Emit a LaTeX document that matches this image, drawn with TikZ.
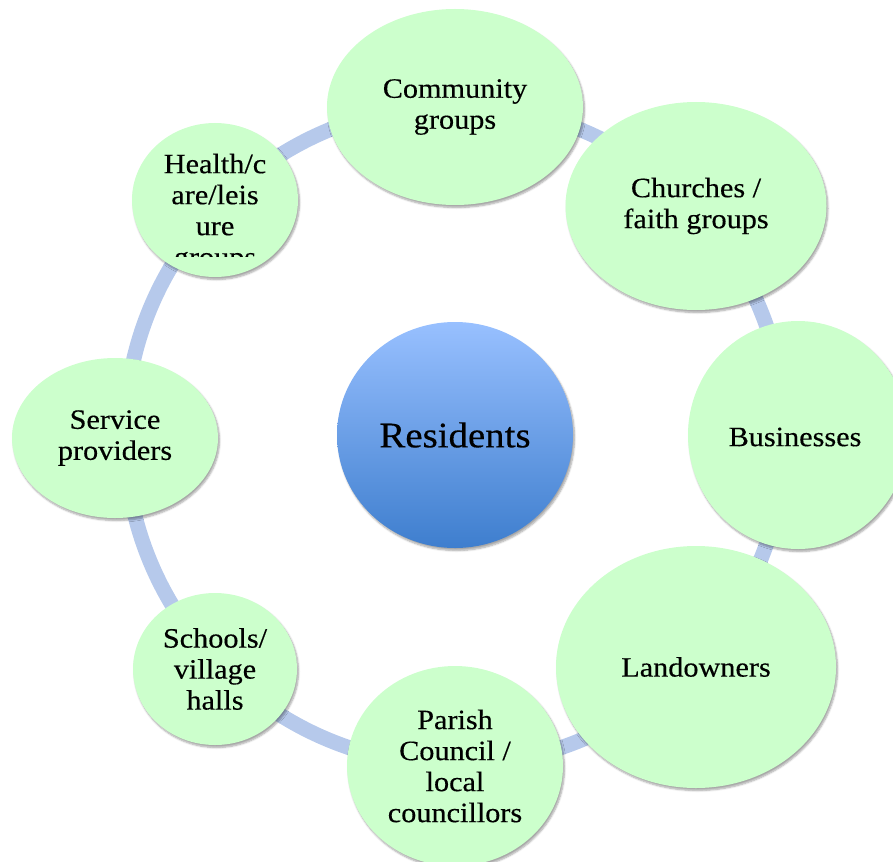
\documentclass[tikz,border=0pt]{standalone}
\usepackage{fontspec}
\setmainfont{Liberation Serif}[FakeStretch=1.08, FakeBold=0.35]
\usetikzlibrary{shapes.geometric,shadows.blur}

\definecolor{leaf}{RGB}{204,255,204}
\definecolor{ringblue}{RGB}{182,201,235}
\definecolor{hubtop}{RGB}{152,192,255}
\definecolor{hubbottom}{RGB}{62,126,206}

\tikzset{
  softshadow/.style={blur shadow={shadow xshift=1.5pt, shadow yshift=-2.5pt,
      shadow blur steps=6, shadow opacity=35}},
  labeltext/.style={align=center, font=\fontsize{28}{31}\selectfont},
  partner/.style={ellipse, fill=leaf, inner sep=0pt, labeltext, softshadow},
  hub/.style={ellipse, top color=hubtop, bottom color=hubbottom, inner sep=0pt,
      font=\fontsize{36}{40}\selectfont, softshadow},
  linkring/.style={draw=ringblue, line width=15pt},
}

\begin{document}
\begin{tikzpicture}[x=1pt, y=-1pt]
  \useasboundingbox (0,0) rectangle (893,861);
  \clip (0,0) rectangle (893,861);

  % ring linking the partners
  \coordinate (middle) at (455,435);
  \draw[linkring] (middle) circle[radius=330];

  % centre
  \node[hub, minimum width=236pt, minimum height=226pt] (residents) at (middle) {Residents};

  % partners around the ring
  \node[partner, minimum width=256pt, minimum height=196pt] (community) at (455,107) {Community\\groups};
  \node[partner, minimum width=261pt, minimum height=208pt] (churches) at (696,206) {Churches /\\faith groups};
  \node[partner, minimum width=220pt, minimum height=228pt] (business) at (798,435) {};
  \node[labeltext] (businesstext) at (795,437) {Businesses};
  \node[partner, minimum width=280pt, minimum height=242pt] (landowners) at (696,667) {Landowners};
  \node[partner, minimum width=216pt, minimum height=200pt] (parish) at (455,766) {Parish\\Council /\\local\\councillors};
  \node[partner, minimum width=164pt, minimum height=152pt] (schools) at (215,669) {Schools/\\village\\halls};
  \node[partner, minimum width=206pt, minimum height=160pt] (service) at (115,438) {Service\\providers};
  \node[partner, minimum width=166pt, minimum height=154pt] (health) at (215,200) {};
  \begin{scope}
    \clip (130,100) rectangle (300,256);
    \node[labeltext] (healthtext) at (215,213) {Health/c\\are/leis\\ure\\groups};
  \end{scope}
\end{tikzpicture}
\end{document}
